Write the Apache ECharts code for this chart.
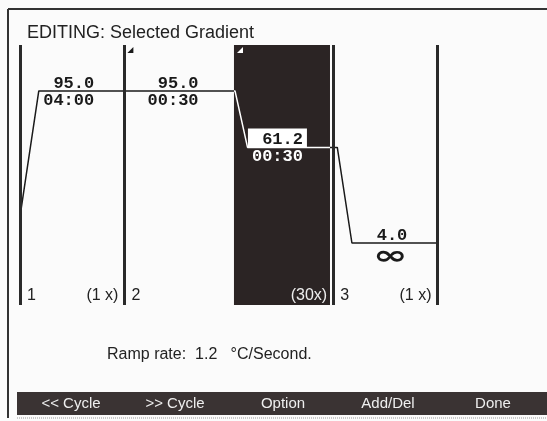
<!DOCTYPE html>
<html>
<head>
<meta charset="utf-8">
<script src="https://cdn.jsdelivr.net/npm/echarts@6/dist/echarts.min.js"></script>
<style>
  html, body { margin: 0; padding: 0; background: #fbfbfb; }
  #chart { width: 547px; height: 421px; }
</style>
</head>
<body>
<div id="chart"></div>
<script>
// program steps
var stepTemps = [95.0, 95.0, 61.2, 4.0];
var stepTimes = ['04:00', '00:30', '00:30', '∞'];
// temperature profile, x in step columns
var profileX = [0.01, 0.18, 2.06, 2.18, 3.04, 3.18, 4.0];
var profileT = [24, 95.0, 95.0, 61.2, 61.2, 4.0, 4.0];
// cycles
var cycleNames = ['1', '2', '3'];
var cycleReps = ['(1 x)', '(30x)', '(1 x)'];
var cycleStart = [0, 1, 3];
var cycleEnd = [1, 3, 4];
// selected step (dark block) and gradient marks
var selectedStep = 2;
var selectedRange = [2.05, 2.97];
var gradientSteps = [1, 2];
var rampRate = 1.2;
var buttons = ['<< Cycle', '>> Cycle', 'Option', 'Add/Del', 'Done'];
var buttonX = [71, 175, 283, 388, 493];

var chart = echarts.init(document.getElementById('chart'));

var ink = '#222';
var dark = '#2b2424';
var mono = '"Liberation Mono", "DejaVu Sans Mono", monospace';
var sans = '"Liberation Sans", Arial, sans-serif';

var boundaries = cycleStart.concat([cycleEnd[cycleEnd.length - 1]]);

var graphics = [
  { type: 'line', shape: { x1: 8, y1: 9, x2: 547, y2: 9 }, style: { stroke: '#333', lineWidth: 2 } },
  { type: 'line', shape: { x1: 8, y1: 9, x2: 8, y2: 418 }, style: { stroke: '#333', lineWidth: 2 } },
  { type: 'text', left: 107, top: 347, style: { text: 'Ramp rate:  ' + rampRate.toFixed(1) + '   °C/Second.', font: '16px ' + sans, fill: ink } },
  { type: 'rect', shape: { x: 17, y: 392, width: 530, height: 23 }, style: { fill: '#3a3333' } },
  { type: 'line', shape: { x1: 17, y1: 418, x2: 547, y2: 418 }, style: { stroke: '#999', lineWidth: 1, lineDash: [1, 1] } }
];
buttons.forEach(function (b, i) {
  graphics.push({
    type: 'text', x: buttonX[i], y: 404,
    style: { text: b, font: '15px ' + sans, fill: '#eee', align: 'center', verticalAlign: 'middle' }
  });
});

chart.setOption({
  animation: false,
  backgroundColor: '#fbfbfb',
  title: {
    text: 'EDITING: Selected Gradient',
    left: 22, top: 19,
    textStyle: { fontFamily: sans, fontSize: 18, fontWeight: 'normal', color: ink }
  },
  grid: { left: 20, right: 109.5, top: 45, bottom: 116 },
  xAxis: { type: 'value', min: 0, max: 4, show: false },
  yAxis: { type: 'value', min: -33.1, max: 122.5, show: false },
  visualMap: {
    type: 'piecewise', show: false, dimension: 0, seriesIndex: 1,
    pieces: [
      { lt: selectedRange[0], color: '#1a1a1a' },
      { gte: selectedRange[0], lte: selectedRange[1], color: '#ffffff' },
      { gt: selectedRange[1], color: '#1a1a1a' }
    ]
  },
  graphic: graphics,
  series: [
    {
      type: 'line', data: [], z: 1, silent: true,
      markArea: {
        silent: true,
        itemStyle: { color: dark },
        data: [[{ xAxis: selectedRange[0] }, { xAxis: selectedRange[1] }]]
      },
      markLine: {
        silent: true, symbol: ['none', 'none'], label: { show: false },
        lineStyle: { color: '#2a2a2a', width: 3, type: 'solid' },
        data: boundaries.map(function (b) { return { xAxis: b }; })
      }
    },
    {
      type: 'line', z: 3, showSymbol: false, silent: true,
      lineStyle: { width: 1.5 },
      data: profileX.map(function (x, i) { return [x, profileT[i]]; })
    },
    {
      type: 'custom', z: 4, silent: true,
      data: stepTemps.map(function (t, i) { return [i, t]; }),
      renderItem: function (params, api) {
        var i = api.value(0);
        var p = api.coord([i + 0.5, api.value(1)]);
        var sel = i === selectedStep;
        var right = p[0] + 22;
        var kids = [];
        if (sel) {
          kids.push({ type: 'rect', shape: { x: right - 55, y: p[1] - 19, width: 59, height: 19 }, style: { fill: '#fff' } });
        }
        kids.push({ type: 'text', style: { text: stepTemps[i].toFixed(1), x: right, y: p[1] + 1, align: 'right', verticalAlign: 'bottom', font: 'bold 17px ' + mono, fill: '#1a1a1a' } });
        if (stepTimes[i] === '∞') {
          kids.push({ type: 'text', x: right - 17, y: p[1] + 1, scaleX: 1.6, style: { text: '∞', x: 0, y: 0, align: 'center', verticalAlign: 'top', font: 'bold 26px "DejaVu Sans"', fill: '#1a1a1a' } });
        } else {
          kids.push({ type: 'text', style: { text: stepTimes[i], x: right, y: p[1] + 1, align: 'right', verticalAlign: 'top', font: 'bold 17px ' + mono, fill: sel ? '#fff' : '#1a1a1a' } });
        }
        if (gradientSteps.indexOf(i) >= 0) {
          var top = api.coord([i, 122.5]);
          var x0 = sel ? api.coord([selectedRange[0], 0])[0] + 3 : top[0] + 3;
          var y0 = top[1] + 2;
          kids.push({ type: 'polygon', shape: { points: [[x0, y0 + 6], [x0 + 6, y0 + 6], [x0 + 6, y0]] }, style: { fill: sel ? '#fff' : '#1a1a1a' } });
        }
        return { type: 'group', children: kids };
      }
    },
    {
      type: 'custom', z: 4, silent: true,
      data: cycleNames.map(function (n, i) { return [cycleStart[i], cycleEnd[i]]; }),
      renderItem: function (params, api) {
        var i = params.dataIndex;
        var a = api.coord([api.value(0), -33.1]);
        var b = api.coord([api.value(1), -33.1]);
        var inSel = api.value(1) - 0.1 >= selectedRange[0] && api.value(1) - 0.1 <= selectedRange[1];
        return {
          type: 'group', children: [
            { type: 'text', style: { text: cycleNames[i], x: a[0] + 7, y: a[1] - 9, verticalAlign: 'middle', font: '16px ' + sans, fill: ink } },
            { type: 'text', style: { text: cycleReps[i], x: b[0] - 6, y: b[1] - 9, align: 'right', verticalAlign: 'middle', font: '16px ' + sans, fill: inSel ? '#eee' : ink } }
          ]
        };
      }
    }
  ]
});
</script>
</body>
</html>
